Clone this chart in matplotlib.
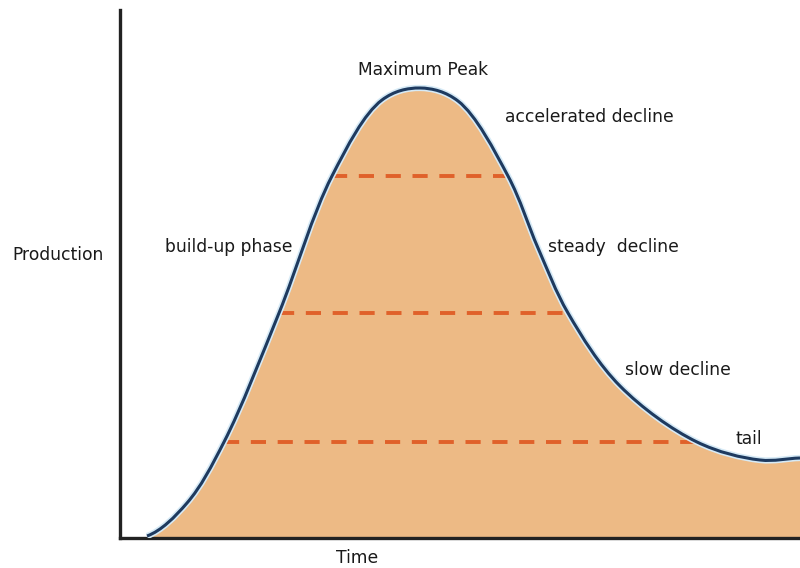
import matplotlib
matplotlib.use("Agg")
import matplotlib.pyplot as plt
from matplotlib.path import Path
from matplotlib.patches import PathPatch

# Curve (time, production)
time = [27, 67, 104, 159, 212, 262, 300, 338, 388, 418, 448, 500, 577, 640, 680]
production = [2, 35, 96, 225, 362, 438, 450, 437, 362, 290, 225, 152, 96, 78, 80]

# Dashed reference levels: (production, time start, time end)
levels = [96, 225, 362]
level_start = [104, 159, 212]
level_end = [577, 448, 388]

labels = ["Maximum Peak", "accelerated decline", "build-up phase",
          "steady  decline", "slow decline", "tail"]
label_x = [303, 385, 45, 428, 505, 616]
label_y = [468, 421, 291, 291, 168, 99]
label_ha = ["center", "left", "left", "left", "left", "left"]


def smooth_path(xs, ys, closed_to_zero=False, alpha=0.5):
    """Centripetal Catmull-Rom spline rendered as cubic Bezier segments."""
    pts = list(zip(xs, ys))
    n = len(pts)
    first = (2 * pts[0][0] - pts[1][0], pts[0][1])
    last = (2 * pts[-1][0] - pts[-2][0], pts[-1][1])
    ext = [first] + pts + [last]

    def dist(a, b):
        return max(((a[0] - b[0]) ** 2 + (a[1] - b[1]) ** 2) ** 0.5, 1e-6)

    verts = [pts[0]]
    codes = [Path.MOVETO]
    for i in range(1, n):
        p0, p1, p2, p3 = ext[i - 1], ext[i], ext[i + 1], ext[i + 2]
        d1 = dist(p0, p1) ** alpha
        d2 = dist(p1, p2) ** alpha
        d3 = dist(p2, p3) ** alpha
        c1 = tuple((d1 ** 2 * p2[k] - d2 ** 2 * p0[k]
                    + (2 * d1 ** 2 + 3 * d1 * d2 + d2 ** 2) * p1[k])
                   / (3 * d1 * (d1 + d2)) for k in range(2))
        c2 = tuple((d3 ** 2 * p1[k] - d2 ** 2 * p3[k]
                    + (2 * d3 ** 2 + 3 * d3 * d2 + d2 ** 2) * p2[k])
                   / (3 * d3 * (d3 + d2)) for k in range(2))
        verts += [c1, c2, p2]
        codes += [Path.CURVE4] * 3
    if closed_to_zero:
        verts += [(xs[-1], 0), (xs[0], 0), (xs[0], ys[0])]
        codes += [Path.LINETO, Path.LINETO, Path.CLOSEPOLY]
    return Path(verts, codes)


fig = plt.figure(figsize=(8, 5.68), dpi=100)
ax = fig.add_axes([120 / 800, 30 / 568, 680 / 800, 528 / 568])
ax.set_xlim(0, 680)
ax.set_ylim(0, 528)

ax.add_patch(PathPatch(smooth_path(time, production, True),
                       facecolor="#EDBA85", edgecolor="none", zorder=1))
for lv, s, e in zip(levels, level_start, level_end):
    ax.plot([s, e], [lv, lv], color="#E0612A", lw=2.8, dashes=(3.9, 3.0),
            zorder=2, solid_capstyle="butt", dash_capstyle="butt")
ax.add_patch(PathPatch(smooth_path(time, production), facecolor="none",
                       edgecolor="#D6EAF6", lw=4.5, zorder=3))
ax.add_patch(PathPatch(smooth_path(time, production), facecolor="none",
                       edgecolor="#1E3A5F", lw=2.2, zorder=4))

for t, x, y, ha in zip(labels, label_x, label_y, label_ha):
    ax.text(x, y, t, ha=ha, va="center", fontsize=12.3, color="#1a1a1a",
            family="DejaVu Sans")

for s in ["top", "right"]:
    ax.spines[s].set_visible(False)
for s in ["left", "bottom"]:
    ax.spines[s].set_linewidth(2.4)
    ax.spines[s].set_color("#222222")
ax.set_xticks([])
ax.set_yticks([])

fig.text(12 / 800, 1 - 255 / 568, "Production", ha="left", va="center",
         fontsize=12.3, color="#1a1a1a")
fig.text(357 / 800, 1 - 558 / 568, "Time", ha="center", va="center",
         fontsize=12.3, color="#1a1a1a")

fig.savefig("out.png", dpi=100)
